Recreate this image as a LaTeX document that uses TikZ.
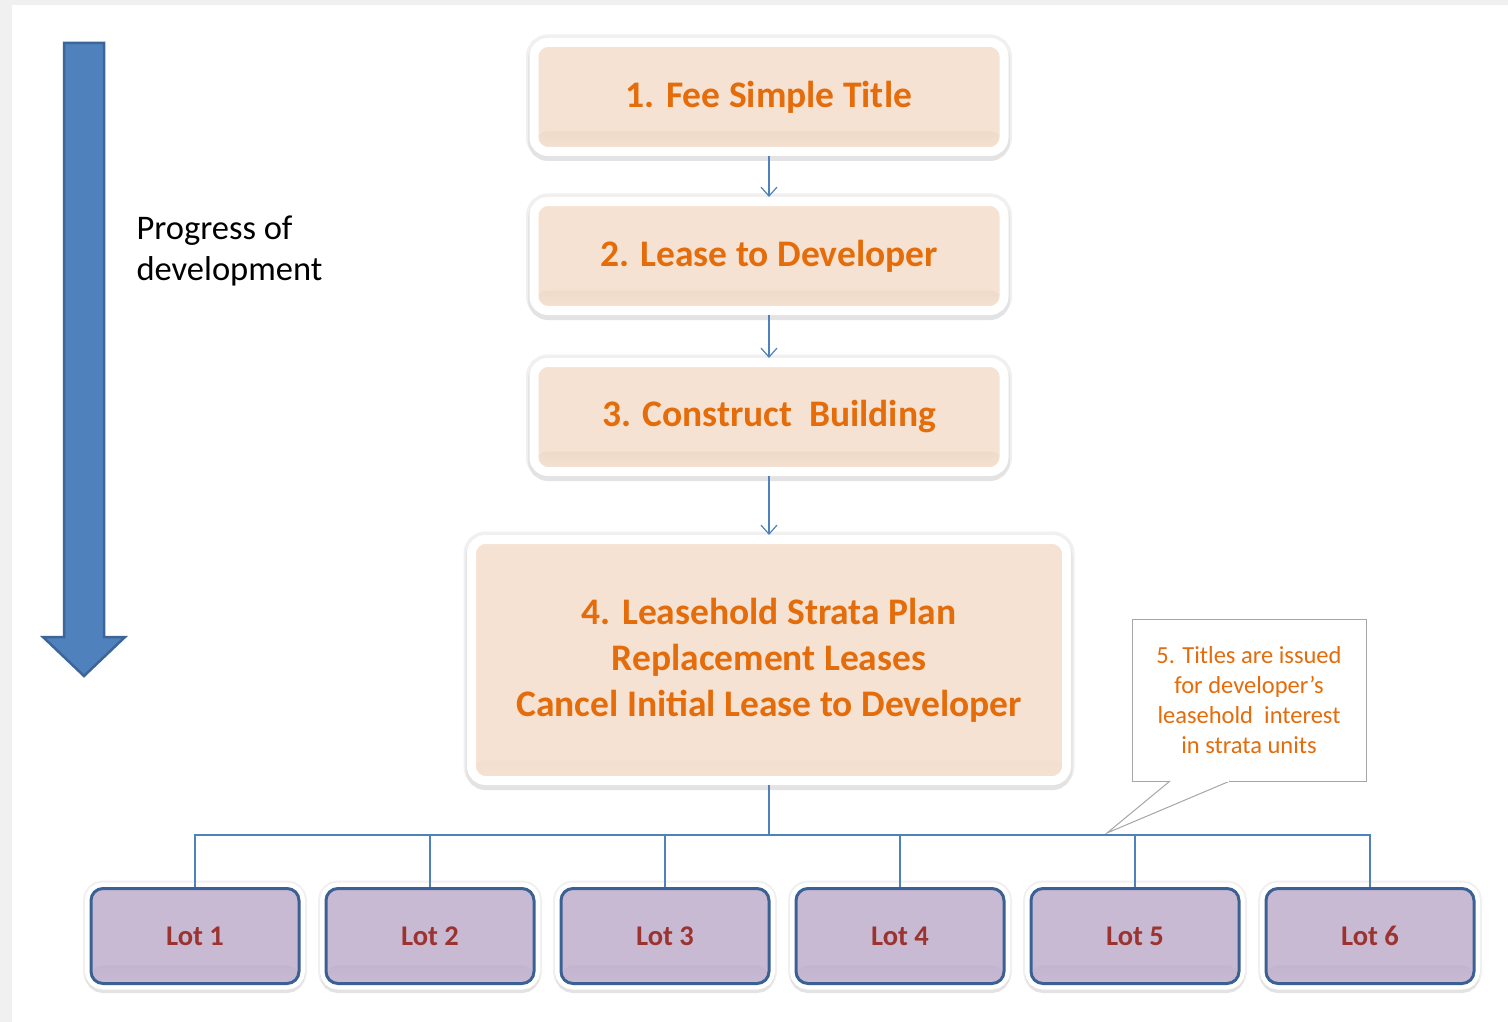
\documentclass[tikz,border=0pt]{standalone}
\usepackage{fontspec}
\setmainfont{Carlito}
\usepackage{tikz}
\usetikzlibrary{positioning,arrows.meta}

\definecolor{peach}{HTML}{F5E2D2}
\definecolor{peachdark}{HTML}{D6BBA5}
\definecolor{orangetxt}{HTML}{E46C0A}
\definecolor{lotfill}{HTML}{C9BAD4}
\definecolor{lotdark}{HTML}{A595B5}
\definecolor{lotline}{HTML}{3B6194}
\definecolor{lottxt}{HTML}{9B3330}
\definecolor{linkblue}{HTML}{4F81BD}
\definecolor{darkblue}{HTML}{3C6598}
\definecolor{bggray}{HTML}{F0F0F0}
\definecolor{notegray}{HTML}{A6A6A6}

\begin{document}
\begin{tikzpicture}[x=1pt,y=-1pt]
% y runs downwards here, so the shading colours are given upside down
\tikzstyle{halo}=[preaction={draw=black!6, line width=16pt}, preaction={draw=black!11, line width=12pt, transform canvas={yshift=-3.5pt}}]
\tikzstyle{stepbox}=[rectangle, rounded corners=14pt, halo, fill=peach, draw=white, line width=9pt, text=orangetxt, font=\fontsize{37.5}{46}\selectfont\bfseries, align=center,
	path picture={\shade[top color=peachdark, bottom color=peach] ([yshift=20pt]path picture bounding box.south west) rectangle (path picture bounding box.south east);}]
\tikzstyle{lot}=[rectangle, rounded corners=12pt, minimum width=208pt, minimum height=95pt, halo, preaction={draw=white, line width=12pt}, fill=lotfill, draw=lotline, line width=3pt, text=lottxt, font=\fontsize{28.5}{30}\selectfont\bfseries,
	path picture={\shade[top color=lotdark, bottom color=lotfill] ([yshift=18pt]path picture bounding box.south west) rectangle (path picture bounding box.south east);}]
\tikzstyle{note}=[rectangle, draw=notegray, line width=1pt, fill=white, outer sep=0pt, minimum width=234pt, minimum height=162pt, text=orangetxt, font=\fontsize{24.5}{30}\selectfont, align=center]
\tikzstyle{arrow}=[draw=linkblue, line width=1.2pt, -{Straight Barb[length=9pt, width=16pt]}]
\tikzstyle{branch}=[draw=linkblue, line width=1.2pt]

% page and margins
\fill[bggray] (0,0) rectangle (1508,1022);
\fill[white] (12,5) rectangle (1508,1022);
\useasboundingbox (0,0) rectangle (1508,1022);

% progress arrow
\filldraw[fill=linkblue, draw=darkblue, line width=2.5pt, line join=miter]
	(64,43) -- (104,43) -- (104,637) -- (125,637) -- (84,676) -- (43,637) -- (64,637) -- cycle;
\node[anchor=north west, align=left, font=\fontsize{34.5}{41}\selectfont] (progress) at (133,212) {Progress of\\development};

% steps
	\node[stepbox, minimum width=470pt, minimum height=109pt] (step_1) at (769,97) {1. Fee Simple Title};
	\node[stepbox, minimum width=470pt, minimum height=109pt] (step_2) at (769,256) {2. Lease to Developer};
	\node[stepbox, minimum width=470pt, minimum height=109pt] (step_3) at (769,417) {3. Construct\ \ Building};
	\node[stepbox, minimum width=595pt, minimum height=241pt] (step_4) at (769,660) {4. Leasehold Strata Plan\\Replacement Leases\\Cancel Initial Lease to Developer};

	\path [arrow]
		(step_1) edge [] (step_2)
		(step_2) edge [] (step_3)
		(step_3) edge [] (step_4);

% note
	\node[note] (note_5) at (1249,700) {5. Titles are issued\\for developer's\\leasehold\ \ interest\\in strata units};
	\coordinate (tip) at (1107,833);
	\filldraw[draw=notegray, fill=white, line width=1pt, line join=miter]
		([xshift=-79pt]note_5.south) -- (tip) -- ([xshift=-19pt]note_5.south);
	\draw[white, line width=2pt] ([xshift=-78pt]note_5.south) -- ([xshift=-20pt]note_5.south);

% lots
	\coordinate (bus) at (769,835);
	\node[lot] (lot_1) at (195,936) {Lot 1};
	\node[lot] (lot_2) at (430,936) {Lot 2};
	\node[lot] (lot_3) at (665,936) {Lot 3};
	\node[lot] (lot_4) at (900,936) {Lot 4};
	\node[lot] (lot_5) at (1135,936) {Lot 5};
	\node[lot] (lot_6) at (1370,936) {Lot 6};

	\draw[draw=linkblue, line width=2.4pt] (step_4.south) -- (bus);
	\path [branch]
		(lot_1.north) |- (bus)
		(lot_2.north) |- (bus)
		(lot_3.north) |- (bus)
		(lot_4.north) |- (bus)
		(lot_5.north) |- (bus)
		(lot_6.north) |- (bus);

\end{tikzpicture}
\end{document}
